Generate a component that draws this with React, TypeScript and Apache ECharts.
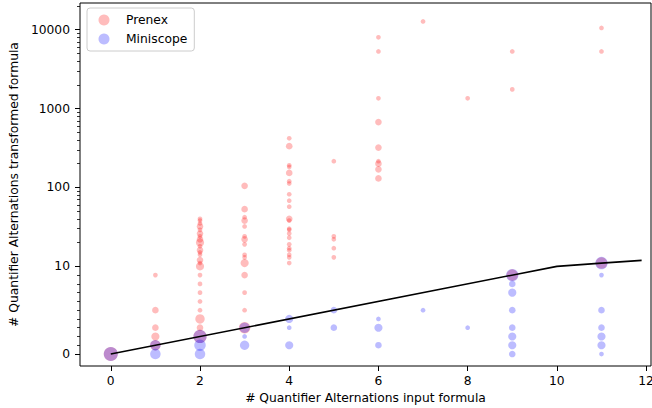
import React, { useEffect, useRef } from "react";
import * as echarts from "echarts";

// ---- data ----
// Prenex: x = quantifier alternations of input, y = of transformed formula, n = number of formulas (marker size)
const prenexX = [
  0,
  1, 1, 1, 1, 1,
  2, 2, 2, 2, 2, 2, 2, 2, 2, 2, 2, 2, 2, 2, 2, 2, 2, 2, 2, 2, 2, 2, 2, 2,
  3, 3, 3, 3, 3, 3, 3, 3, 3, 3, 3, 3, 3, 3, 3,
  4, 4, 4, 4, 4, 4, 4, 4, 4, 4, 4, 4, 4, 4, 4, 4, 4, 4, 4, 4, 4, 4,
  5, 5, 5, 5, 5,
  6, 6, 6, 6, 6, 6, 6, 6, 6,
  7,
  8,
  9, 9, 9,
  11, 11, 11,
];
const prenexY = [
  0,
  9, 5, 3, 2, 1,
  40, 38, 35, 32, 29, 26, 24, 22, 20, 18, 16, 15, 14, 12, 11, 10, 9, 8, 7, 6, 5, 4, 3, 2,
  105, 53, 42, 38, 32, 24, 22, 19, 14, 13, 11, 9, 7, 5, 3,
  420, 333, 191, 182, 153, 120, 112, 82, 68, 57, 40, 38, 30, 29, 26, 23, 19, 17, 16, 14, 13, 11,
  215, 24, 22, 17, 13,
  8000, 5300, 1350, 675, 320, 215, 200, 170, 130,
  12700,
  1350,
  5300, 1750, 9,
  10500, 5300, 11,
];
const prenexN = [
  9,
  1, 2, 2, 3, 5,
  1, 1, 1, 2, 1, 2, 1, 2, 3, 1, 2, 1, 1, 2, 1, 3, 1, 1, 1, 1, 1, 4, 2, 8,
  2, 2, 1, 2, 1, 1, 2, 1, 1, 1, 3, 2, 1, 1, 6,
  1, 2, 1, 1, 2, 1, 1, 1, 1, 1, 2, 1, 1, 1, 1, 1, 1, 1, 1, 1, 1, 1,
  1, 1, 1, 1, 1,
  1, 1, 1, 2, 2, 1, 2, 2, 2,
  1,
  1,
  1, 1, 6,
  1, 1, 6,
];

const miniscopeX = [
  0,
  1, 1,
  2, 2, 2,
  3, 3, 3,
  4, 4, 4,
  5, 5,
  6, 6, 6,
  7,
  8,
  9, 9, 9, 9, 9, 9, 9, 9,
  11, 11, 11, 11, 11, 11, 11,
];
const miniscopeY = [
  0,
  1, 0,
  2, 1, 0,
  3, 2, 1,
  4, 3, 1,
  5, 3,
  4, 3, 1,
  5,
  3,
  9, 8, 7, 5, 3, 2, 1, 0,
  11, 9, 5, 3, 2, 1, 0,
];
const miniscopeN = [
  9,
  5, 5,
  8, 6, 5,
  5, 1, 4,
  3, 1, 3,
  2, 2,
  1, 3, 2,
  1,
  1,
  7, 2, 3, 2, 2, 3, 3, 2,
  7, 1, 2, 2, 3, 3, 1,
];

// identity reference line y = x
const lineX = [0, 10, 11, 11.9];
const lineY = [0, 10, 11, 11.9];

// axis ticks
const xTicks = [0, 2, 4, 6, 8, 10, 12];
const yMajorTicks = [0, 10, 100, 1000, 10000];
const yMajorLabels = ["0", "10", "100", "1000", "10000"];
const yMinorTicks = [
  1, 2, 3, 4, 5, 6, 7, 8, 9,
  20, 30, 40, 50, 60, 70, 80, 90,
  200, 300, 400, 500, 600, 700, 800, 900,
  2000, 3000, 4000, 5000, 6000, 7000, 8000, 9000,
  20000,
];

// symmetric-log transform (linthresh = 10, linscale = 1, base 10), as matplotlib's 'symlog'
const LINTHRESH = 10;
const LINSCALE_ADJ = 1 / (1 - 1 / 10);
function symlog(v: number): number {
  const a = Math.abs(v);
  if (a <= LINTHRESH) return (v / LINTHRESH) * LINSCALE_ADJ;
  return Math.sign(v) * (LINSCALE_ADJ + Math.log10(a / LINTHRESH));
}

const FONT = "DejaVu Sans";
const FS = 12.3;

export default function App() {
  const ref = useRef<HTMLDivElement>(null);

  useEffect(() => {
    if (!ref.current) return;
    const chart = echarts.init(ref.current, undefined, { renderer: "svg" });

    const prenexData = prenexX.map((x, i) => [x, symlog(prenexY[i]), prenexN[i], prenexY[i]]);
    const miniscopeData = miniscopeX.map((x, i) => [x, symlog(miniscopeY[i]), miniscopeN[i], miniscopeY[i]]);
    const lineData = lineX.map((x, i) => [x, symlog(lineY[i])]);
    const majorT = yMajorTicks.map(symlog);
    const minorT = yMinorTicks.map(symlog);

    const yMin = -0.152;
    const yMax = 4.449;
    const sizeFn = (v: number[]) => 4.7 * Math.sqrt(v[2]);

    chart.setOption({
      animation: false,
      grid: {
        left: 80,
        right: 1,
        top: 3,
        bottom: 42,
        show: true,
        borderColor: "#000",
        borderWidth: 1,
        backgroundColor: "transparent",
        outerBoundsMode: "none",
      },
      legend: {
        show: true,
        data: ["Prenex", "Miniscope"],
        orient: "vertical",
        left: 87,
        top: 8,
        icon: "circle",
        itemWidth: 11,
        itemHeight: 11,
        itemGap: 6,
        padding: [5.5, 7, 5.5, 11.5],
        borderColor: "#cccccc",
        borderWidth: 1,
        borderRadius: 3,
        backgroundColor: "rgba(255,255,255,0.8)",
        textStyle: {
          fontFamily: FONT,
          fontSize: FS,
          color: "#000",
          lineHeight: 13,
          padding: [0, 0, 0, 11.5],
        },
      },
      xAxis: {
        type: "value",
        min: -0.69,
        max: 12.11,
        axisLine: { show: false, onZero: false },
        axisTick: { show: true, customValues: xTicks, length: 5, lineStyle: { color: "#000", width: 1 } },
        axisLabel: { customValues: xTicks, margin: 9, fontFamily: FONT, fontSize: FS, color: "#000" },
        splitLine: { show: false },
        name: "# Quantifier Alternations input formula",
        nameLocation: "middle",
        nameGap: 26,
        nameTextStyle: { fontFamily: FONT, fontSize: FS, color: "#000" },
      },
      yAxis: [
        {
          type: "value",
          min: yMin,
          max: yMax,
          position: "left",
          axisLine: { show: false, onZero: false },
          axisTick: { show: true, customValues: majorT, length: 5, lineStyle: { color: "#000", width: 1 } },
          axisLabel: {
            customValues: majorT,
            margin: 10,
            fontFamily: FONT,
            fontSize: FS,
            color: "#000",
            formatter: (v: number) => {
              let best = 0;
              for (let i = 0; i < majorT.length; i++) {
                if (Math.abs(majorT[i] - v) < Math.abs(majorT[best] - v)) best = i;
              }
              return yMajorLabels[best];
            },
          },
          splitLine: { show: false },
          name: "# Quantifier Alternations transformed formula",
          nameLocation: "middle",
          nameRotate: 90,
          nameGap: 54,
          nameTextStyle: { fontFamily: FONT, fontSize: FS, color: "#000" },
        },
        {
          type: "value",
          min: yMin,
          max: yMax,
          position: "left",
          offset: 0,
          axisLine: { show: false, onZero: false },
          axisTick: { show: true, customValues: minorT, length: 3, lineStyle: { color: "#000", width: 0.8 } },
          axisLabel: { show: false },
          splitLine: { show: false },
        },
      ],
      series: [
        {
          type: "scatter",
          name: "Prenex",
          data: prenexData,
          symbol: "circle",
          symbolSize: sizeFn,
          itemStyle: { color: "rgba(255,0,0,0.33)" },
          z: 2,
          silent: true,
        },
        {
          type: "scatter",
          name: "Miniscope",
          data: miniscopeData,
          symbol: "circle",
          symbolSize: sizeFn,
          itemStyle: { color: "rgba(0,0,255,0.33)" },
          z: 3,
          silent: true,
        },
        {
          type: "line",
          name: "identity",
          data: lineData,
          symbol: "none",
          lineStyle: { color: "#000", width: 1.6 },
          z: 4,
          silent: true,
        },
      ],
    });

    return () => chart.dispose();
  }, []);

  return (
    <div
      ref={ref}
      style={{ position: "absolute", left: 0, top: 0, width: 652, height: 408, background: "#fff" }}
    />
  );
}
